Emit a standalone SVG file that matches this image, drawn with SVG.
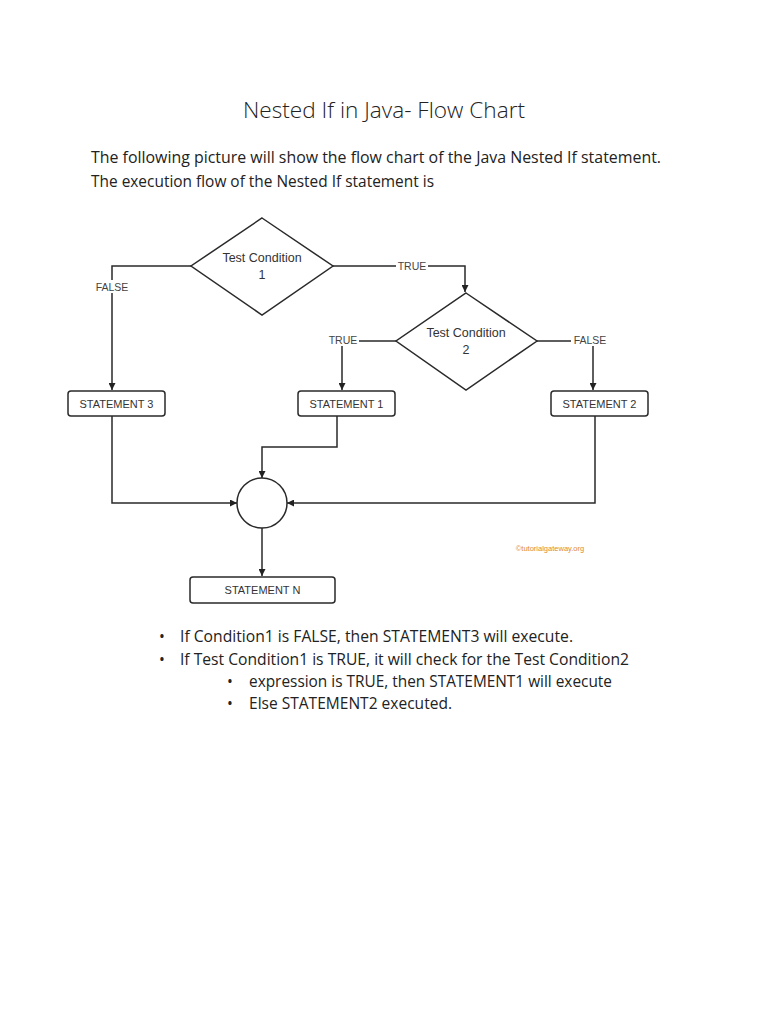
<svg xmlns="http://www.w3.org/2000/svg" width="768" height="1024" viewBox="0 0 768 1024">
<style>
.page{font-family:"Open Sans","Noto Sans","DejaVu Sans",sans-serif;fill:#222}
.node{fill:#fff;stroke:#2a2a2a;stroke-width:1.5}
.lbl{font-family:"Liberation Sans",Arial,sans-serif;font-size:11px;fill:#333;text-anchor:middle}
.cond{font-family:"Liberation Sans",Arial,sans-serif;font-size:12.5px;fill:#333;text-anchor:middle}
.edge{fill:none;stroke:#2a2a2a;stroke-width:1.5}
.tag{font-family:"Liberation Sans",Arial,sans-serif;font-size:10.5px;fill:#444;text-anchor:middle}
.bul{text-anchor:middle}
</style>
<defs>
<marker id="arr" viewBox="0 0 10 10" refX="10" refY="5" markerWidth="7" markerHeight="7" markerUnits="userSpaceOnUse" orient="auto">
<path d="M0,0 L10,5 L0,10 z" fill="#222"/>
</marker>
</defs>
<rect width="768" height="1024" fill="#fff"/>
<text class="page" x="384" y="118" font-size="22" font-weight="300" text-anchor="middle" textLength="282" lengthAdjust="spacingAndGlyphs">Nested If in Java- Flow Chart</text>
<text class="page" x="91" y="163" font-size="15.5" textLength="570" lengthAdjust="spacingAndGlyphs">The following picture will show the flow chart of the Java Nested If statement.</text>
<text class="page" x="91" y="187" font-size="15.5" textLength="343" lengthAdjust="spacingAndGlyphs">The execution flow of the Nested If statement is</text>

<g id="connectors">
<polyline class="edge" points="191,266 112,266 112,390" marker-end="url(#arr)"/>
<polyline class="edge" points="333,266 465,266 465,292" marker-end="url(#arr)"/>
<polyline class="edge" points="396,341 342,341 342,390" marker-end="url(#arr)"/>
<polyline class="edge" points="537,341 593,341 593,390" marker-end="url(#arr)"/>
<polyline class="edge" points="112,416 112,503 237,503" marker-end="url(#arr)"/>
<polyline class="edge" points="337,416 337,447 262,447 262,478" marker-end="url(#arr)"/>
<polyline class="edge" points="595,416 595,503 287,503" marker-end="url(#arr)"/>
<polyline class="edge" points="262,528 262,576" marker-end="url(#arr)"/>
<rect x="92" y="280" width="40" height="13" fill="#fff"/>
<text class="tag" x="112" y="291">FALSE</text>
<rect x="396" y="260" width="32" height="12" fill="#fff"/>
<text class="tag" x="412" y="270">TRUE</text>
<rect x="327" y="334" width="32" height="12" fill="#fff"/>
<text class="tag" x="343" y="344">TRUE</text>
<rect x="571" y="334" width="38" height="12" fill="#fff"/>
<text class="tag" x="590" y="344">FALSE</text>
</g>

<g id="cond1">
<polygon class="node" points="262,218 333,266 262,315 191,266"/>
<text class="cond" x="262" y="262">Test Condition</text>
<text class="cond" x="262" y="279">1</text>
</g>
<g id="cond2">
<polygon class="node" points="466,293 537,341 466,390 396,341"/>
<text class="cond" x="466" y="337">Test Condition</text>
<text class="cond" x="466" y="354">2</text>
</g>
<g id="stmt3">
<rect class="node" x="68" y="391" width="97" height="25" rx="3"/>
<text class="lbl" x="116.5" y="407.5">STATEMENT 3</text>
</g>
<g id="stmt1">
<rect class="node" x="298" y="391" width="97" height="25" rx="3"/>
<text class="lbl" x="346.5" y="407.5">STATEMENT 1</text>
</g>
<g id="stmt2">
<rect class="node" x="551" y="391" width="97" height="25" rx="3"/>
<text class="lbl" x="599.5" y="407.5">STATEMENT 2</text>
</g>
<g id="join">
<circle class="node" cx="262" cy="503" r="25"/>
</g>
<g id="stmtN">
<rect class="node" x="190" y="577" width="145" height="26" rx="3"/>
<text class="lbl" x="262.5" y="593.5">STATEMENT N</text>
</g>
<text x="550" y="551" font-family="Liberation Sans,Arial,sans-serif" font-size="7.5" fill="#e08a2c" text-anchor="middle">©tutorialgateway.org</text>

<g class="page" font-size="15.5">
<text class="bul" x="162" y="642">•</text>
<text x="180" y="642" textLength="393" lengthAdjust="spacingAndGlyphs">If Condition1 is FALSE, then STATEMENT3 will execute.</text>
<text class="bul" x="162" y="665">•</text>
<text x="180" y="665" textLength="449" lengthAdjust="spacingAndGlyphs">If Test Condition1 is TRUE, it will check for the Test Condition2</text>
<text class="bul" x="230" y="687">•</text>
<text x="249" y="687" textLength="363" lengthAdjust="spacingAndGlyphs">expression is TRUE, then STATEMENT1 will execute</text>
<text class="bul" x="230" y="709">•</text>
<text x="249" y="709" textLength="203" lengthAdjust="spacingAndGlyphs">Else STATEMENT2 executed.</text>
</g>
</svg>
